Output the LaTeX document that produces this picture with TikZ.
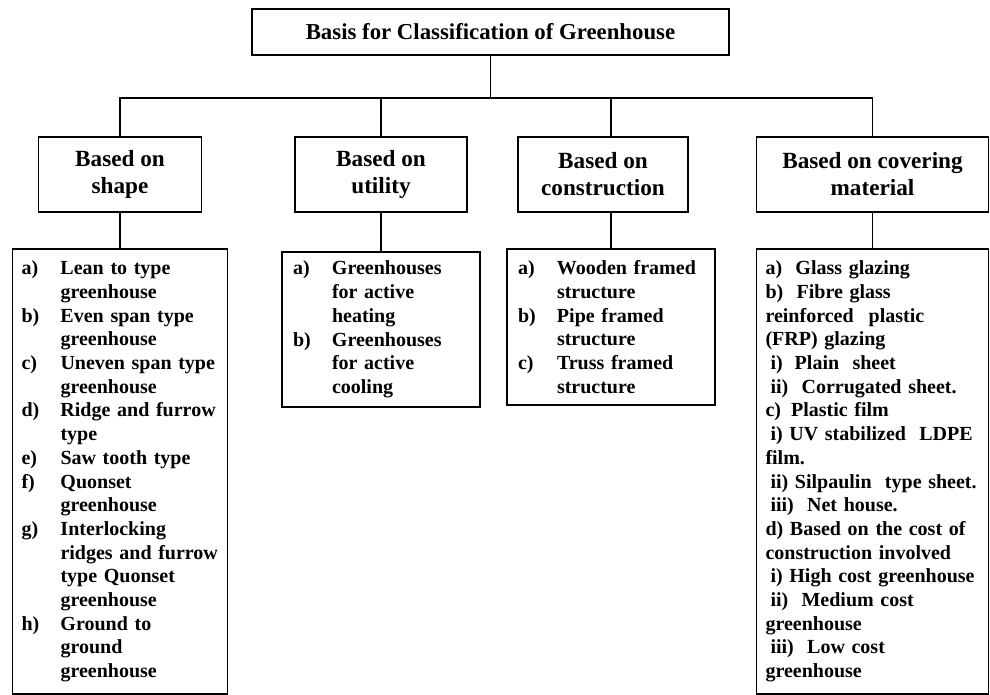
\documentclass[tikz,border=0pt]{standalone}
\usepackage{fontspec}
\setmainfont{Liberation Serif}
\newcommand{\lb}[1]{\makebox[39pt][l]{#1}}
\newcommand{\nx}{\hspace*{39pt}}

\begin{document}
\begin{tikzpicture}[x=1pt,y=-1pt,
        box/.style={draw,line width=1.6pt,inner sep=0pt},
        head/.style={box,align=center,minimum height=75pt,font=\bfseries\fontsize{23.2}{27}\selectfont},
        list/.style={box,align=left,font=\bfseries\fontsize{20}{23.7}\selectfont},
        link/.style={line width=1.6pt}]
        \useasboundingbox (0,0) rectangle (990,695);

        \node[box,minimum width=477pt,minimum height=46pt,font=\bfseries\fontsize{22.8}{26}\selectfont] (top) at (490.5,32) {Basis for Classification of Greenhouse};

        \node[head,minimum width=163pt] (shape) at (120,174.5) {Based on\\shape};
        \node[head,minimum width=172pt] (utility) at (381,174.5) {Based on\\utility};
        \node[head,minimum width=170pt] (construction) at (603,174.5) {Based on\\construction};
        \node[head,minimum width=232pt] (covering) at (872.5,174.5) {Based on covering\\material};

        \node[list,minimum width=215pt,minimum height=445pt,text width=197pt] (shapelist) at (120,471.5) {%
            \lb{a)}Lean to type\\ \nx greenhouse\\
            \lb{b)}Even span type\\ \nx greenhouse\\
            \lb{c)}Uneven span type\\ \nx greenhouse\\
            \lb{d)}Ridge and furrow\\ \nx type\\
            \lb{e)}Saw tooth type\\
            \lb{f)}Quonset\\ \nx greenhouse\\
            \lb{g)}Interlocking\\ \nx ridges and furrow\\ \nx type Quonset\\ \nx greenhouse\\
            \lb{h)}Ground to\\ \nx ground\\ \nx greenhouse};
        \node[list,minimum width=198pt,minimum height=155pt,text width=176pt] (utilitylist) at (381,329.5) {%
            \lb{a)}Greenhouses\\ \nx for active\\ \nx heating\\
            \lb{b)}Greenhouses\\ \nx for active\\ \nx cooling};
        \node[list,minimum width=208pt,minimum height=156pt,text width=186pt] (conslist) at (611,327) {%
            \lb{a)}Wooden framed\\ \nx structure\\
            \lb{b)}Pipe framed\\ \nx structure\\
            \lb{c)}Truss framed\\ \nx structure};
        \node[list,minimum width=232pt,minimum height=445pt,text width=214pt] (coverlist) at (872.5,471.5) {%
            a)\ \ Glass glazing\\
            b)\ \ Fibre glass\\
            reinforced\hspace{15pt}plastic\\
            (FRP) glazing\\
            \hspace*{5pt}i)\hspace{12pt}Plain\ \ sheet\\
            \hspace*{5pt}ii)\ \ Corrugated sheet.\\
            c)\hspace{10pt}Plastic film\\
            \hspace*{5pt}i) UV stabilized\ \ LDPE\\
            film.\\
            \hspace*{5pt}ii) Silpaulin\ \ type sheet.\\
            \hspace*{5pt}iii)\ \ Net house.\\
            d) Based on the cost of\\
            construction involved\\
            \hspace*{5pt}i) High cost greenhouse\\
            \hspace*{5pt}ii)\ \ Medium cost\\
            greenhouse\\
            \hspace*{5pt}iii)\ \ Low cost\\
            greenhouse};

        \draw[link] (top.south) -- ++(0,42) coordinate (bus);
        \foreach \n in {shape,utility,covering}
            \draw[link] (bus) -| (\n.north);
        \draw[link] (bus) -| (conslist.north |- construction.north);

        \draw[link] (shape.south) -- (shapelist.north);
        \draw[link] (utility.south) -- (utilitylist.north);
        \draw[link] (construction.south -| conslist.north) -- (conslist.north);
        \draw[link] (covering.south) -- (coverlist.north);
    \end{tikzpicture}
\end{document}
